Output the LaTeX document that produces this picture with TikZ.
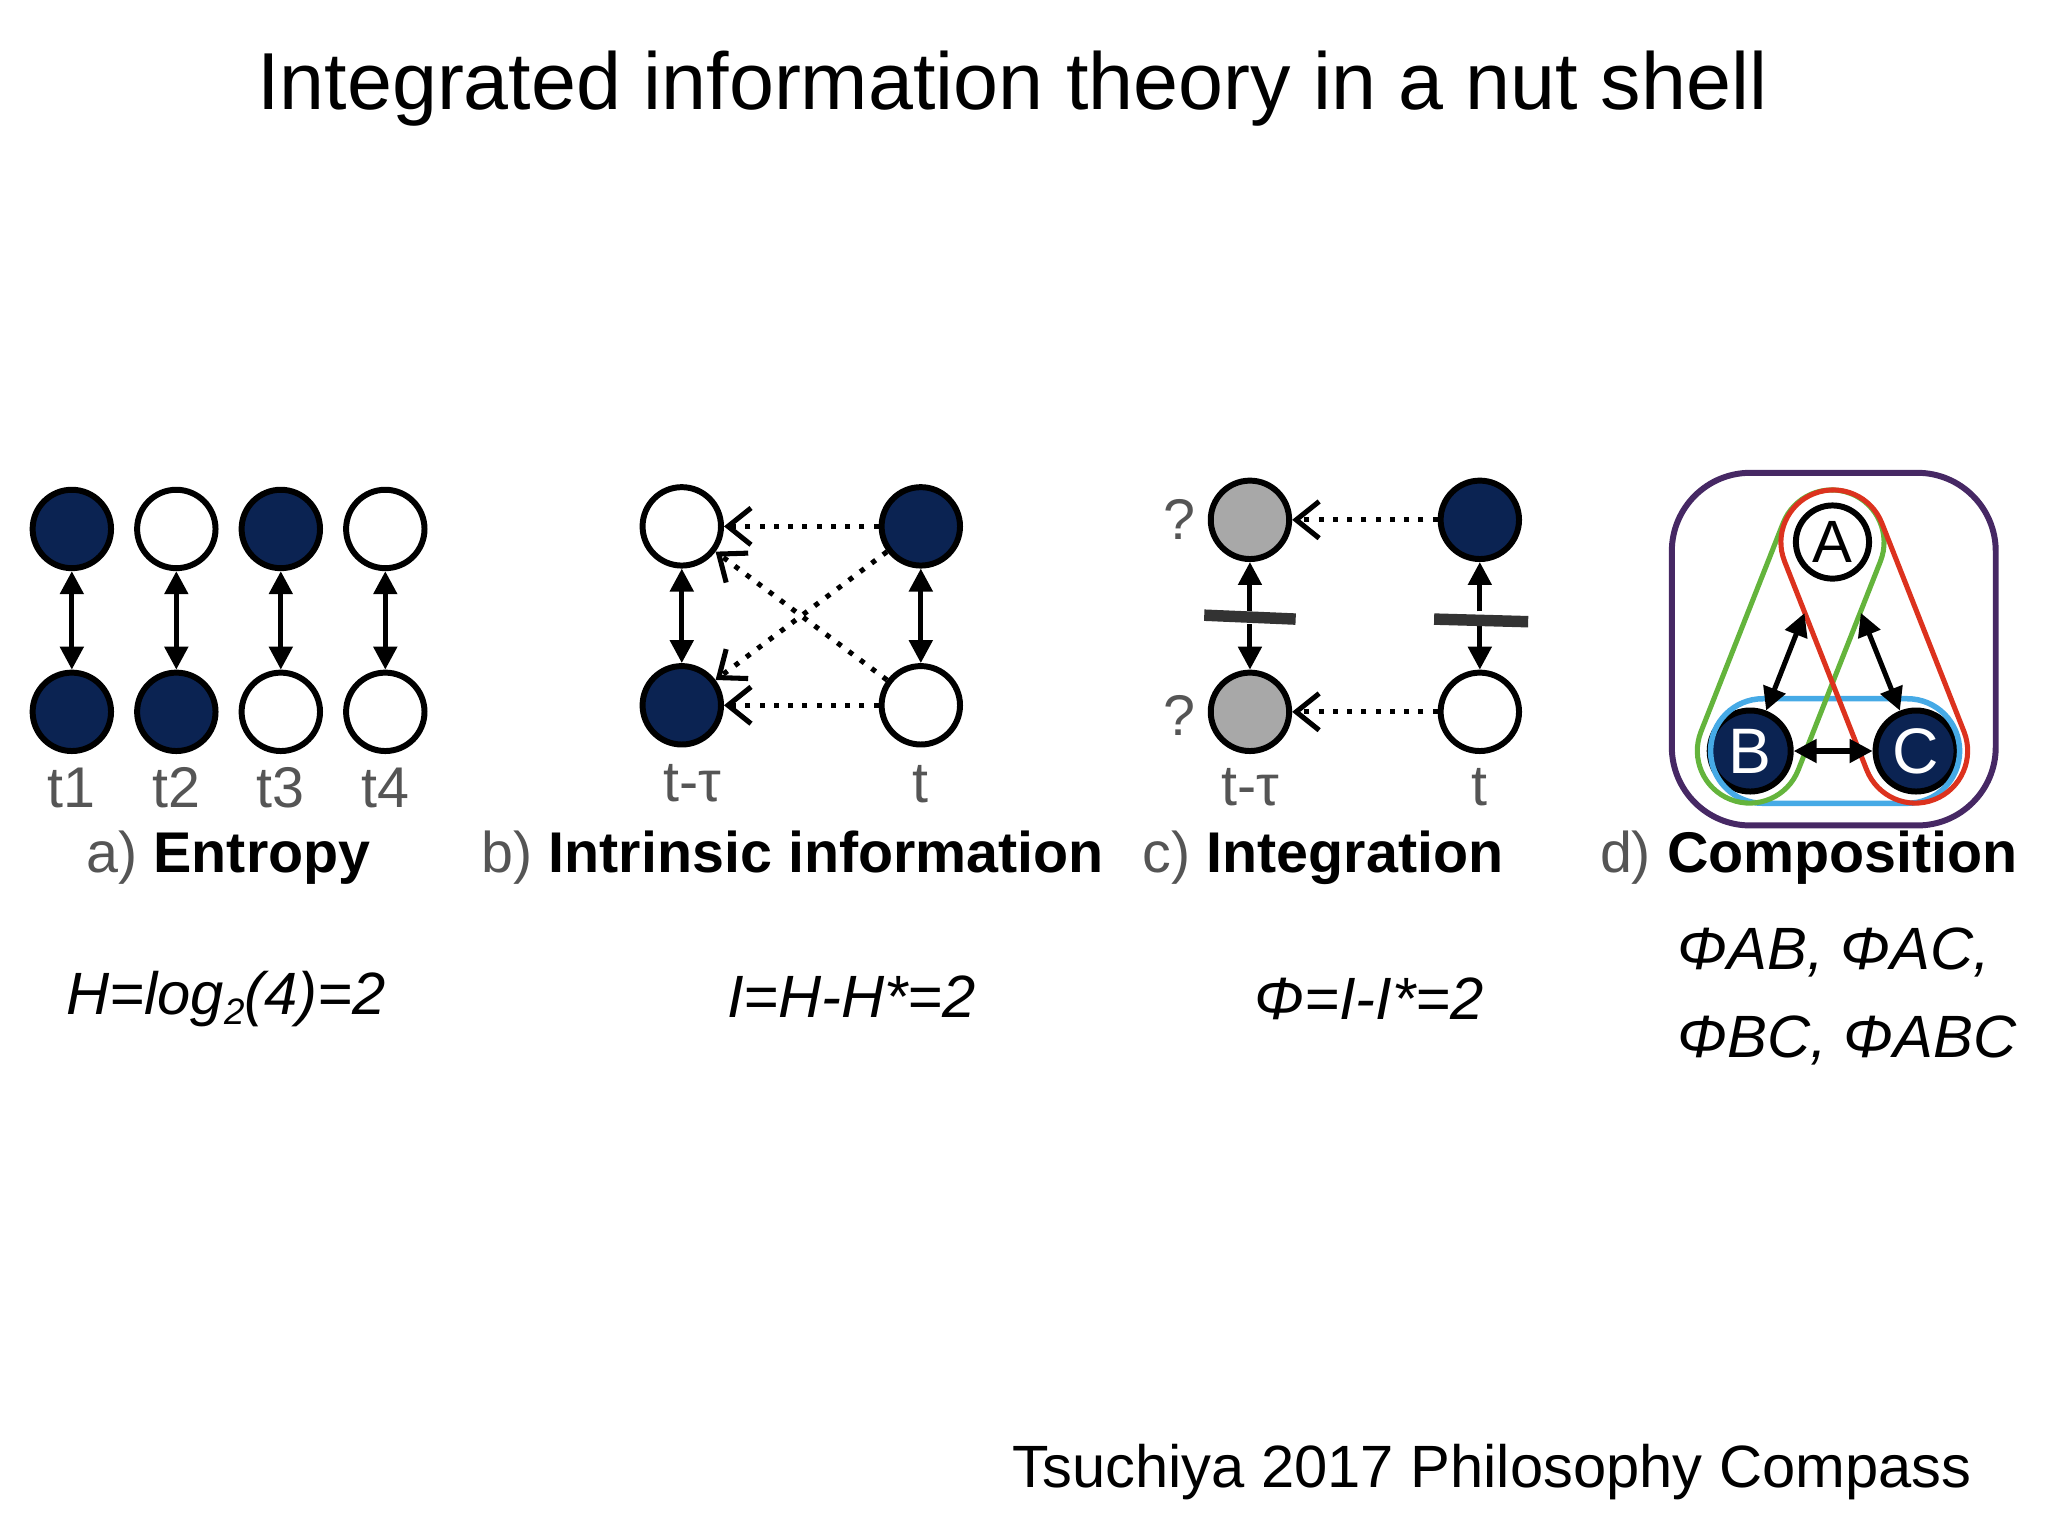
\documentclass[tikz,border=0pt]{standalone}
\usepackage{fontspec}
\setmainfont{Liberation Sans}
\usetikzlibrary{arrows.meta,shapes.misc}
\definecolor{navy}{HTML}{0B2352}
\definecolor{circgray}{HTML}{A8A8A8}
\definecolor{lblgray}{HTML}{555555}
\begin{document}
\begin{tikzpicture}[x=0.01cm,y=-0.01cm,
  st/.style={circle,draw=black,line width=1.3pt,minimum size=0.6cm,inner sep=0pt},
  dk/.style={st,fill=navy},
  wh/.style={st,fill=white},
  gr/.style={st,fill=circgray},
  dbl/.style={{Triangle[length=5pt,width=5pt]}-{Triangle[length=5pt,width=5pt]},line width=1.1pt},
  dot/.style={-{Straight Barb[length=5pt,width=8pt]},dotted,line width=1.1pt},
  tl/.style={text=lblgray,font=\fontsize{12.5}{14}\selectfont},
  captxt/.style={font=\fontsize{12.5}{14}\selectfont},
  fm/.style={font=\fontsize{13}{16}\selectfont\itshape}]
\useasboundingbox (0,0) rectangle (1568,1176);
\node (title) at (775,68) {\fontsize{17.6}{20}\selectfont Integrated information theory in a nut shell};
% panel a
\foreach \i/\x/\t/\b in {1/55/dk/dk,2/135/wh/dk,3/215/dk/wh,4/295/wh/wh}{
  \node[\t] (a\i t) at (\x,405) {};
  \node[\b] (a\i b) at (\x,545) {};
  \draw[dbl] (a\i t) -- (a\i b);
  \node[tl] (a\i l) at (\x,603) {t\i};
}
\node[captxt] (capa) at (175,657) {\textcolor{lblgray}{a)} \textbf{Entropy}};
% panel b
\node[wh] (b1) at (522,403) {};
\node[dk] (b2) at (522,540) {};
\node[dk] (b3) at (705,403) {};
\node[wh] (b4) at (705,540) {};
\draw[dbl] (b1) -- (b2);
\draw[dbl] (b3) -- (b4);
\draw[dot] (b3) -- (b1);
\draw[dot] (b4) -- (b2);
\draw[dot] (b3) -- (b2);
\draw[dot] (b4) -- (b1);
\node[tl] (bl1) at (530,600) {t-τ};
\node[tl] (bl2) at (705,600) {t};
\node[captxt] (capb) at (607,657) {\textcolor{lblgray}{b)} \textbf{Intrinsic information}};
% panel c
\node[gr] (c1) at (957,398) {};
\node[gr] (c2) at (957,545) {};
\node[dk] (c3) at (1133,398) {};
\node[wh] (c4) at (1133,545) {};
\node[tl] (q1) at (903,398) {?};
\node[tl] (q2) at (903,548) {?};
\draw[dot] (c3) -- (c1);
\draw[dot] (c4) -- (c2);
\foreach \n/\x in {c1/957,c3/1133}{
  \coordinate (\n m) at (\x,468);
  \draw[-{Triangle[length=5pt,width=5pt]},line width=1.1pt] (\n m) -- (\n.south);
}
\foreach \n/\x in {c2/957,c4/1133}{
  \coordinate (\n m) at (\x,478);
  \draw[-{Triangle[length=5pt,width=5pt]},line width=1.1pt] (\n m) -- (\n.north);
}
\draw[line width=2.5pt,black!80] (922,471) -- (992,474);
\draw[line width=2.5pt,black!80] (1098,474) -- (1170,476);
\node[tl] (cl1) at (957,603) {t-τ};
\node[tl] (cl2) at (1133,603) {t};
\node[captxt] (capc) at (1013,657) {\textcolor{lblgray}{c)} \textbf{Integration}};
% panel d
\draw[draw={rgb,255:red,70;green,40;blue,100},line width=1.3pt,rounded corners=0.6cm] (1280,362) rectangle (1528,632);
\node[wh,minimum size=0.56cm,font=\fontsize{13}{14}\selectfont] (A) at (1403,415) {A};
\node[dk,minimum size=0.62cm,text=white,font=\fontsize{14}{14}\selectfont] (B) at (1340,575) {B};
\node[dk,minimum size=0.62cm,text=white,font=\fontsize{14}{14}\selectfont] (C) at (1467,575) {C};
\node[draw={rgb,255:red,70;green,170;blue,230},line width=1.2pt,rounded rectangle,minimum width=2.14cm,minimum height=0.8cm] (bc) at (1405,575) {};
\node[draw={rgb,255:red,100;green,180;blue,60},line width=1.1pt,rounded rectangle,minimum width=2.75cm,minimum height=0.8cm,rotate=68.5] (ab) at (1371,495) {};
\node[draw={rgb,255:red,220;green,50;blue,30},line width=1.1pt,rounded rectangle,minimum width=2.75cm,minimum height=0.8cm,rotate=111.5] (ac) at (1435,495) {};
\draw[dbl,shorten <=8pt] (A) -- (B);
\draw[dbl,shorten <=8pt] (A) -- (C);
\draw[dbl] (B) -- (C);
\node[captxt] (capd) at (1385,657) {\textcolor{lblgray}{d)} \textbf{Composition}};
% formulas
\node[fm] (f1) at (173,765) {H=log\raisebox{-0.3ex}{\fontsize{8}{9}\selectfont 2}(4)=2};
\node[fm] (f2) at (652,763) {I=H-H*=2};
\node[fm] (f3) at (1048,765) {Φ=I-I*=2};
\node[fm,anchor=west,align=left] (f4) at (1272,763) {ΦAB, ΦAC,\\[3pt]ΦBC, ΦABC};
\node[anchor=east,font=\fontsize{13}{16}\selectfont] (foot) at (1522,1127) {Tsuchiya 2017 Philosophy Compass};
\end{tikzpicture}
\end{document}
